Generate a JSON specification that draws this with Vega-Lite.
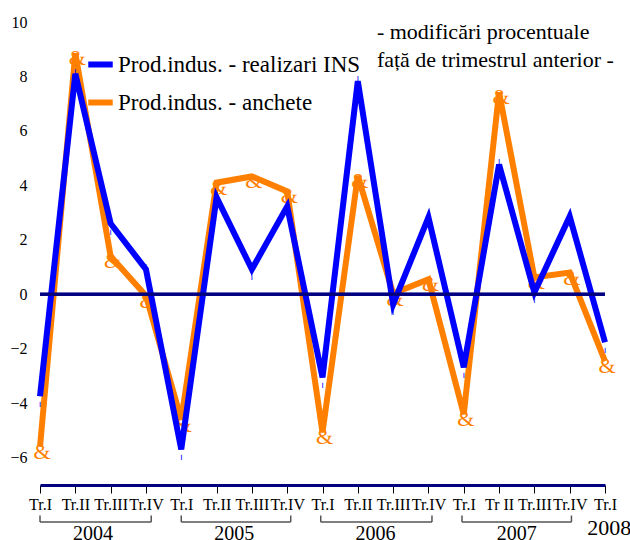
{
  "$schema": "https://vega.github.io/schema/vega-lite/v6.json",
  "width": 565,
  "height": 463,
  "autosize": {"type": "none"},
  "padding": {"left": 40, "top": 22, "right": 25, "bottom": 55},
  "background": "white",
  "config": {
    "view": {"stroke": null},
    "font": "Liberation Serif",
    "axis": {"grid": false, "labelFont": "Liberation Serif", "labelColor": "#000000", "title": null},
    "axisY": {"domain": false, "ticks": false, "labelFontSize": 16, "labelPadding": 13},
    "legend": {"labelFont": "Liberation Serif", "labelLimit": 400},
    "text": {"font": "Liberation Serif"}
  },
  "datasets": {
    "series": [
      {"i": 0, "s": "Prod.indus. - realizari INS", "v": -3.74},
      {"i": 1, "s": "Prod.indus. - realizari INS", "v": 8.1},
      {"i": 2, "s": "Prod.indus. - realizari INS", "v": 2.6},
      {"i": 3, "s": "Prod.indus. - realizari INS", "v": 0.92},
      {"i": 4, "s": "Prod.indus. - realizari INS", "v": -5.69},
      {"i": 5, "s": "Prod.indus. - realizari INS", "v": 3.56},
      {"i": 6, "s": "Prod.indus. - realizari INS", "v": 0.92},
      {"i": 7, "s": "Prod.indus. - realizari INS", "v": 3.23},
      {"i": 8, "s": "Prod.indus. - realizari INS", "v": -3.05},
      {"i": 9, "s": "Prod.indus. - realizari INS", "v": 7.83},
      {"i": 10, "s": "Prod.indus. - realizari INS", "v": -0.37},
      {"i": 11, "s": "Prod.indus. - realizari INS", "v": 2.83},
      {"i": 12, "s": "Prod.indus. - realizari INS", "v": -2.68},
      {"i": 13, "s": "Prod.indus. - realizari INS", "v": 4.77},
      {"i": 14, "s": "Prod.indus. - realizari INS", "v": 0.07},
      {"i": 15, "s": "Prod.indus. - realizari INS", "v": 2.86},
      {"i": 16, "s": "Prod.indus. - realizari INS", "v": -1.76},
      {"i": 0, "s": "Prod.indus. - anchete", "v": -5.6},
      {"i": 1, "s": "Prod.indus. - anchete", "v": 8.85},
      {"i": 2, "s": "Prod.indus. - anchete", "v": 1.4},
      {"i": 3, "s": "Prod.indus. - anchete", "v": -0.05},
      {"i": 4, "s": "Prod.indus. - anchete", "v": -4.6},
      {"i": 5, "s": "Prod.indus. - anchete", "v": 4.1},
      {"i": 6, "s": "Prod.indus. - anchete", "v": 4.33},
      {"i": 7, "s": "Prod.indus. - anchete", "v": 3.78},
      {"i": 8, "s": "Prod.indus. - anchete", "v": -5.07},
      {"i": 9, "s": "Prod.indus. - anchete", "v": 4.35},
      {"i": 10, "s": "Prod.indus. - anchete", "v": 0.03},
      {"i": 11, "s": "Prod.indus. - anchete", "v": 0.55},
      {"i": 12, "s": "Prod.indus. - anchete", "v": -4.4},
      {"i": 13, "s": "Prod.indus. - anchete", "v": 7.42},
      {"i": 14, "s": "Prod.indus. - anchete", "v": 0.62},
      {"i": 15, "s": "Prod.indus. - anchete", "v": 0.8},
      {"i": 16, "s": "Prod.indus. - anchete", "v": -2.45}
    ],
    "years": [
      {"year": "2004", "first": 0, "last": 3.15, "mid": 1.5},
      {"year": "2005", "first": 4, "last": 7.1, "mid": 5.5},
      {"year": "2006", "first": 7.95, "last": 11.1, "mid": 9.5},
      {"year": "2007", "first": 11.95, "last": 15.05, "mid": 13.5}
    ],
    "notes": [
      {"t": "- modificări procentuale", "nx": 9.54, "ny": 9.62},
      {"t": "față de trimestrul anterior -", "nx": 9.54, "ny": 8.62},
      {"t": "2008", "nx": 15.5, "ny": -8.58}
    ]
  },
  "encoding": {
    "x": {"field": "i", "type": "quantitative",
      "scale": {"domain": [0, 16], "nice": false, "zero": false},
      "axis": {
        "values": [0,1,2,3,4,5,6,7,8,9,10,11,12,13,14,15,16],
        "labelExpr": "['Tr.I','Tr.II','Tr.III','Tr.IV','Tr.I','Tr.II','Tr.III','Tr.IV','Tr.I','Tr.II','Tr.III','Tr.IV','Tr.I','Tr II','Tr.III','Tr.IV','Tr.I'][datum.value]",
        "domainColor": "#000080", "domainWidth": 3,
        "tickColor": "#000000", "tickSize": 8, "tickWidth": 1,
        "labelFontSize": 16, "labelPadding": 3, "labelOverlap": false, "labelFlush": false, "labelBound": false
      }}
  },
  "layer": [
    {
      "data": {"name": "series"},
      "transform": [{"filter": "datum.s === 'Prod.indus. - anchete'"}],
      "mark": {"type": "line", "strokeWidth": 6, "strokeJoin": "miter"},
      "encoding": {
        "y": {"field": "v", "type": "quantitative",
          "scale": {"domain": [-7, 10], "nice": false, "zero": false},
          "axis": {"values": [-6,-4,-2,0,2,4,6,8,10], "labelFont": "Liberation Serif", "labelFontSize": 16, "labelPadding": 13, "domain": false, "ticks": false}},
        "color": {"field": "s", "type": "nominal",
          "scale": {"domain": ["Prod.indus. - realizari INS", "Prod.indus. - anchete"], "range": ["#0000FF", "#FF8000"]},
          "legend": {
            "title": null, "orient": "none", "legendX": 45, "legendY": 27,
            "symbolType": "stroke", "symbolStrokeWidth": 6, "symbolSize": 600,
            "labelFontSize": 23, "labelColor": "#000000",
            "rowPadding": 10, "labelOffset": 2
          }}
      }
    },
    {
      "data": {"name": "series"},
      "transform": [{"filter": "datum.s === 'Prod.indus. - anchete'"}],
      "mark": {"type": "text", "text": "&", "fontSize": 22, "color": "#FF8000", "baseline": "middle", "dx": 2, "dy": 5},
      "encoding": {
        "y": {"field": "v", "type": "quantitative"}
      }
    },
    {
      "data": {"name": "series"},
      "transform": [{"filter": "datum.s === 'Prod.indus. - realizari INS'"}],
      "mark": {"type": "line", "strokeWidth": 6, "strokeJoin": "miter", "color": "#0000FF"},
      "encoding": {
        "y": {"field": "v", "type": "quantitative"}
      }
    },
    {
      "data": {"name": "series"},
      "transform": [{"filter": "datum.s === 'Prod.indus. - realizari INS'"}],
      "mark": {"type": "text", "text": "¦", "fontSize": 16, "color": "#0000FF", "baseline": "middle", "dy": 2},
      "encoding": {
        "y": {"field": "v", "type": "quantitative"}
      }
    },
    {
      "data": {"name": "notes"},
      "mark": {"type": "rule", "color": "#000080", "strokeWidth": 3},
      "encoding": {
        "x": null,
        "y": {"datum": 0, "type": "quantitative"}
      }
    },
    {
      "data": {"name": "years"},
      "mark": {"type": "rule", "color": "#555555", "strokeWidth": 1.5, "clip": false},
      "encoding": {
        "x": {"field": "first", "type": "quantitative"},
        "x2": {"field": "last"},
        "y": {"datum": -8.36, "type": "quantitative"}
      }
    },
    {
      "data": {"name": "years"},
      "mark": {"type": "rule", "color": "#555555", "strokeWidth": 1.5, "clip": false},
      "encoding": {
        "x": {"field": "first", "type": "quantitative"},
        "y": {"datum": -8.12, "type": "quantitative"},
        "y2": {"datum": -8.36}
      }
    },
    {
      "data": {"name": "years"},
      "mark": {"type": "rule", "color": "#555555", "strokeWidth": 1.5, "clip": false},
      "encoding": {
        "x": {"field": "last", "type": "quantitative"},
        "y": {"datum": -8.12, "type": "quantitative"},
        "y2": {"datum": -8.36}
      }
    },
    {
      "data": {"name": "years"},
      "mark": {"type": "text", "fontSize": 20, "color": "#000000", "baseline": "middle", "clip": false},
      "encoding": {
        "x": {"field": "mid", "type": "quantitative"},
        "y": {"datum": -8.8, "type": "quantitative"},
        "text": {"field": "year"}
      }
    },
    {
      "data": {"name": "notes"},
      "mark": {"type": "text", "fontSize": 22, "color": "#000000", "align": "left", "baseline": "middle", "clip": false},
      "encoding": {
        "x": {"field": "nx", "type": "quantitative"},
        "y": {"field": "ny", "type": "quantitative"},
        "text": {"field": "t"}
      }
    }
  ]
}
